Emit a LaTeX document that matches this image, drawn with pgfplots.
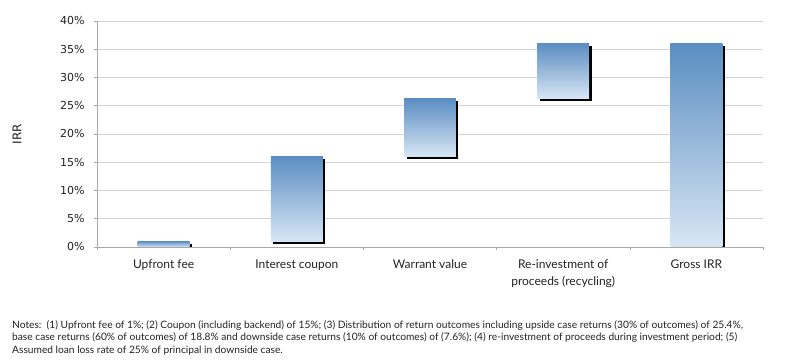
\documentclass[border=0pt]{standalone}
\usepackage{fontspec}
\setmainfont{Lato}
\newfontfamily\dejavu{DejaVu Sans}
\usepackage{pgfplots}
\pgfplotsset{compat=1.18}
\definecolor{bartop}{HTML}{5B8EC2}
\definecolor{barbot}{HTML}{D8E6F4}
\definecolor{gridc}{HTML}{D4D4D4}
\definecolor{axc}{HTML}{A8A8A8}
\definecolor{txt}{HTML}{222222}
\pgfplotsset{
  shadowbar/.style={draw=none, fill=black, transform canvas={xshift=2.5pt, yshift=-2.5pt}},
  gradbar/.style={draw=none, top color=bartop, bottom color=barbot},
}
\begin{document}
\begin{tikzpicture}
\begin{axis}[name=ax, at={(0,0)}, anchor=south west,
  scale only axis, width=666pt, height=226pt,
  xmin=-0.5, xmax=4.5, ymin=0, ymax=40,
  axis x line*=bottom, axis y line*=left,
  axis line style={axc, line width=0.8pt},
  tick align=outside, major tick length=3pt,
  tick style={axc, line width=0.6pt},
  xtick={-0.5,0.5,1.5,2.5,3.5,4.5}, xticklabels={},
  extra x ticks={0,1,2,3,4},
  extra x tick labels={Upfront fee, Interest coupon, Warrant value, {Re-investment of\\proceeds (recycling)}, Gross IRR},
  extra x tick style={major tick length=0pt, grid=none,
     tick label style={align=center, font=\fontsize{12}{17}\selectfont, text=txt, yshift=-9pt}},
  ytick={0,5,...,40},
  yticklabel={\pgfmathprintnumber{\tick}\%},
  /pgf/number format/assume math mode=true,
  yticklabel style={font=\dejavu\fontsize{11}{13}\selectfont, text=txt, xshift=-6pt},
  ymajorgrids, grid style={gridc, line width=0.9pt},
  ylabel={IRR},
  ylabel style={at={(axis description cs:-0.1201,0.5)}, anchor=center, font=\dejavu\fontsize{12}{14}\selectfont, text=txt},
]
% Upfront fee: 0 -> 1
\addplot[shadowbar] coordinates {(-0.195,0) (-0.195,1) (0.195,1) (0.195,0)} --cycle;
\addplot[gradbar] coordinates {(-0.195,0) (-0.195,1) (0.195,1) (0.195,0)} --cycle;
% Interest coupon: 1 -> 16
\addplot[shadowbar] coordinates {(0.805,1) (0.805,16) (1.195,16) (1.195,1)} --cycle;
\addplot[gradbar] coordinates {(0.805,1) (0.805,16) (1.195,16) (1.195,1)} --cycle;
% Warrant value: 16 -> 26.2
\addplot[shadowbar] coordinates {(1.805,16) (1.805,26.2) (2.195,26.2) (2.195,16)} --cycle;
\addplot[gradbar] coordinates {(1.805,16) (1.805,26.2) (2.195,26.2) (2.195,16)} --cycle;
% Re-investment: 26.2 -> 36
\addplot[shadowbar] coordinates {(2.805,26.2) (2.805,36) (3.195,36) (3.195,26.2)} --cycle;
\addplot[gradbar] coordinates {(2.805,26.2) (2.805,36) (3.195,36) (3.195,26.2)} --cycle;
% Gross IRR: 0 -> 36
\addplot[shadowbar] coordinates {(3.805,0) (3.805,36) (4.195,36) (4.195,0)} --cycle;
\addplot[gradbar] coordinates {(3.805,0) (3.805,36) (4.195,36) (4.195,0)} --cycle;
\end{axis}
\node[anchor=north west, inner sep=0pt, align=left, text=txt,
  font=\fontsize{10.2}{12.7}\selectfont] at ([xshift=-85pt,yshift=-73pt]ax.south west)
 {Notes:\ \ (1) Upfront fee of 1\%; (2) Coupon (including backend) of 15\%; (3) Distribution of return outcomes including upside case returns (30\% of outcomes) of 25.4\%,\\
 base case returns (60\% of outcomes) of 18.8\% and downside case returns (10\% of outcomes) of (7.6\%); (4) re-investment of proceeds during investment period; (5)\\
 Assumed loan loss rate of 25\% of principal in downside case.};
\path ([xshift=-97pt,yshift=-117pt]ax.south west) rectangle ([xshift=37pt,yshift=21pt]ax.north east);
\end{tikzpicture}
\end{document}
